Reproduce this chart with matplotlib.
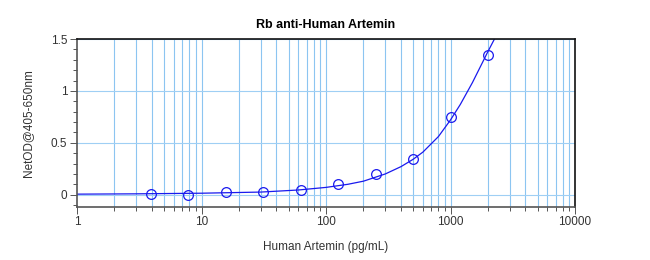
import numpy as np
import matplotlib.pyplot as plt
from matplotlib.ticker import FixedLocator, MultipleLocator, NullFormatter

plt.rcParams['font.family'] = ['Liberation Sans', 'DejaVu Sans']

# standard points (pg/mL vs NetOD)
conc = [3.9, 7.8, 15.6, 31.25, 62.5, 125, 250, 500, 1000, 2000]
od = [0.01, 0.0, 0.025, 0.025, 0.045, 0.107, 0.197, 0.34, 0.75, 1.35]

# fitted curve
fit_x = [1, 3, 10, 30, 60, 100, 150, 200, 300, 400, 500, 600, 800, 1000,
         1200, 1500, 1800, 2000, 2300]
fit_y = [0.005, 0.008, 0.014, 0.025, 0.045, 0.07, 0.1, 0.13, 0.2, 0.27,
         0.34, 0.41, 0.56, 0.72, 0.87, 1.08, 1.27, 1.38, 1.52]

x_ticks = [1, 10, 100, 1000, 10000]
y_ticks = [0, 0.5, 1, 1.5]

fig = plt.figure(figsize=(6.5, 2.6), dpi=100)
ax = fig.add_axes([77 / 650, 1 - 206.7 / 260, (575 - 77) / 650, (206.7 - 39) / 260])

ax.set_xscale('log')
ax.set_xlim(1, 10000)
ax.set_ylim(-0.116, 1.5)

# grid
minor_x = [m * 10 ** d for d in range(4) for m in range(2, 10)]
for xv in minor_x + [10, 100, 1000]:
    ax.axvline(xv, color='#8cc5f1', lw=0.8, zorder=0)
for yv in y_ticks:
    ax.axhline(yv, color='#9fcff4', lw=0.8, zorder=0)

ax.plot(fit_x, fit_y, color='#1a1aee', lw=0.9, zorder=2)
ax.plot(conc, od, linestyle='none', marker='o', ms=7, mfc='none',
        mec='#1a1aee', mew=0.9, zorder=3)

ax.xaxis.set_major_locator(FixedLocator(x_ticks))
ax.set_xticklabels([str(v) for v in x_ticks])
ax.xaxis.set_minor_locator(FixedLocator(minor_x))
ax.xaxis.set_minor_formatter(NullFormatter())
ax.yaxis.set_major_locator(FixedLocator(y_ticks))
ax.set_yticklabels(['0', '0.5', '1', '1.5'])
ax.yaxis.set_minor_locator(MultipleLocator(0.1))

ax.tick_params(which='both', direction='out', colors='#555555', labelcolor='#333333',
               labelsize=8.5, width=0.7)
ax.tick_params(which='major', length=5, pad=2)
ax.tick_params(which='minor', length=3)

for s in ['left', 'bottom']:
    ax.spines[s].set_color('#555555')
    ax.spines[s].set_linewidth(1.2)
for s in ['top', 'right']:
    ax.spines[s].set_color('#111111')
    ax.spines[s].set_linewidth(1.2)

ax.set_title('Rb anti-Human Artemin', fontsize=9, fontweight='bold', pad=8)
ax.set_xlabel('Human Artemin (pg/mL)', fontsize=8.5, color='#333333', labelpad=9)
ax.set_ylabel('NetOD@405-650nm', fontsize=8.5, color='#333333', labelpad=12)

fig.savefig('out.png', dpi=100)
